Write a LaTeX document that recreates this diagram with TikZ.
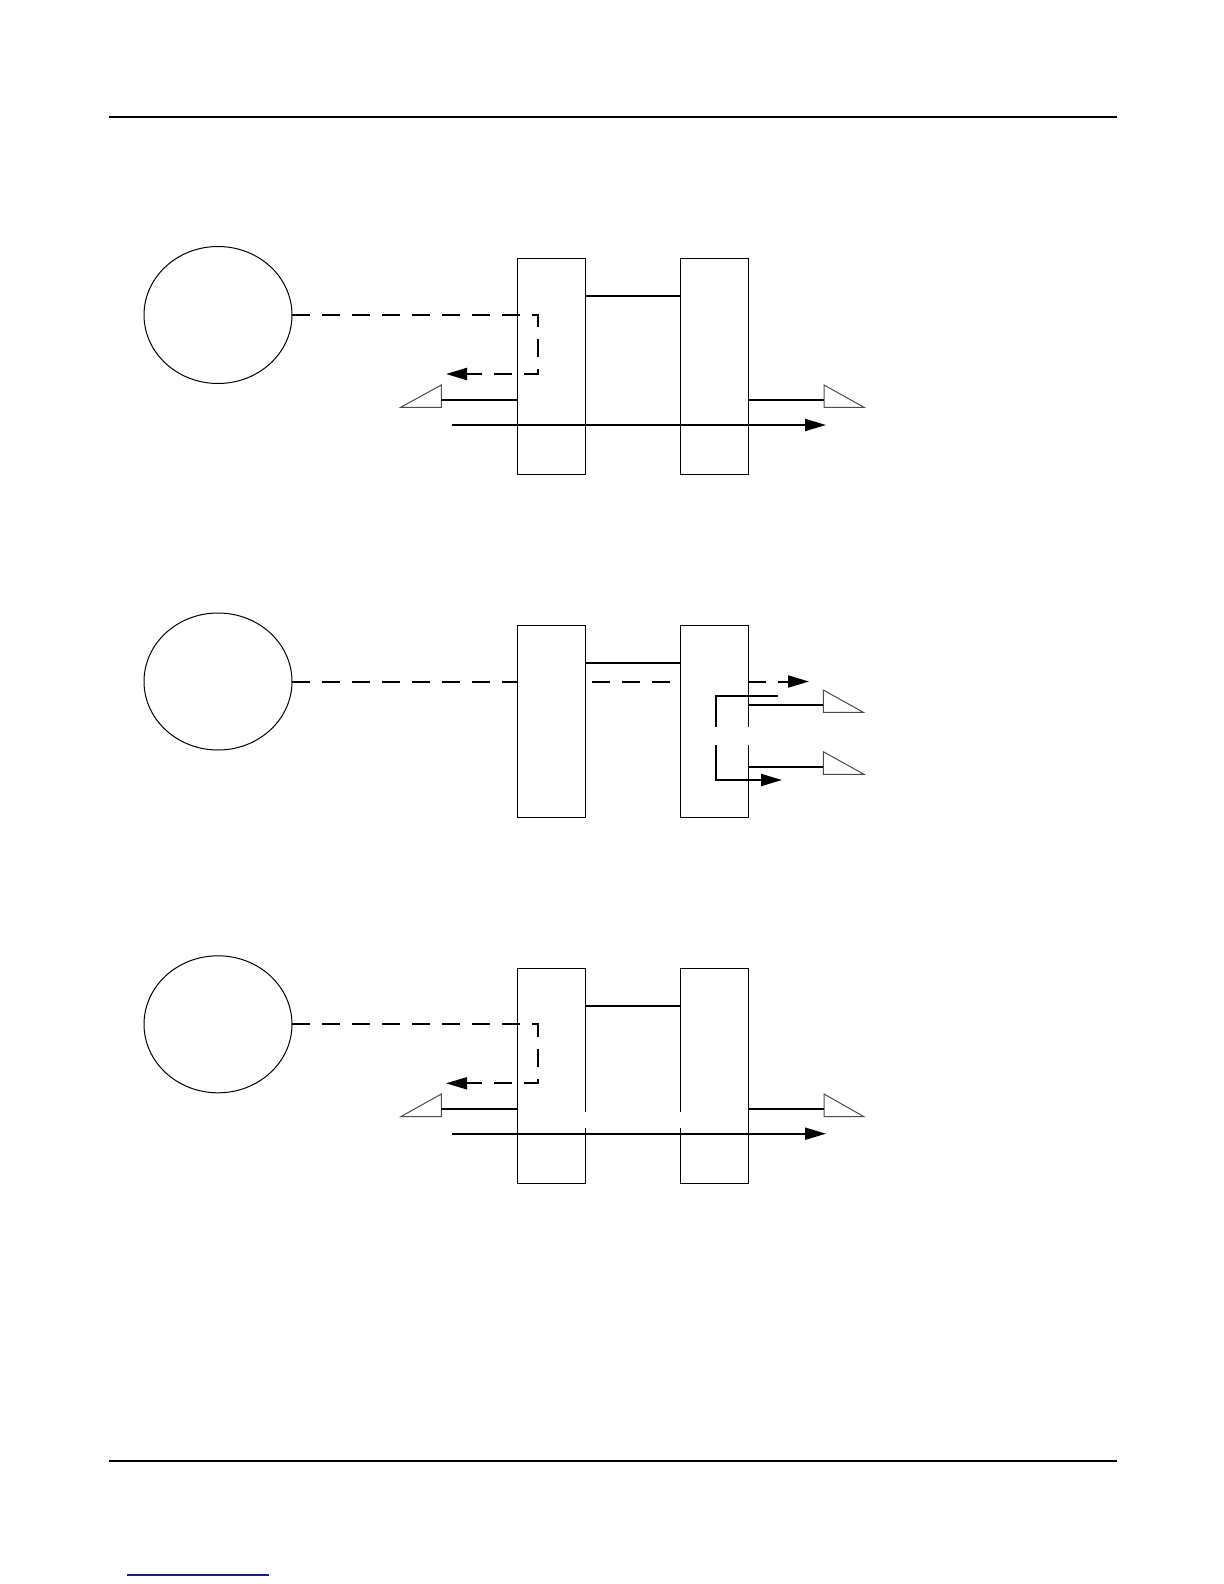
\documentclass[tikz,border=0pt]{standalone}
\usetikzlibrary{arrows.meta,shapes.geometric}
\definecolor{linkblue}{RGB}{30,30,130}
\begin{document}
\begin{tikzpicture}[x=0.5pt,y=-0.5pt,
 unit/.style={draw, line width=0.5pt, minimum width=34pt, inner sep=0pt, outer sep=0pt, rectangle},
 src/.style={draw, ellipse, line width=0.5pt, minimum width=74pt, minimum height=68.5pt, inner sep=0pt, outer sep=0pt},
 conn/.style={line width=1pt},
 sig/.style={line width=1pt, dash pattern=on 9pt off 6pt},
 tip/.style={-{Triangle[length=10.5pt,width=6pt]}},
 ant/.style={draw=black!70, fill=white, line width=0.5pt},
 rulel/.style={line width=0.7pt}]
\useasboundingbox (0,0) rectangle (1224,1584);
\fill[white] (0,0) rectangle (1224,1584);
% page rules
\draw[rulel] (109,117) -- (1117,117);
\draw[rulel] (109,1461) -- (1117,1461);
\draw[linkblue, line width=0.7pt] (127,1575) -- (269,1575);

% ---------- panel 1 ----------
\node[src] (c1) at (218,315) {};
\node[unit, minimum height=108pt] (a1) at (551.3,366.3) {};
\node[unit, minimum height=108pt] (b1) at (714.3,366.8) {};
\draw[conn] (a1.east |- 0,296) -- (b1.west |- 0,296);
\coordinate (d1) at (537.7,315);
\coordinate (d1b) at (537.7,374);
\coordinate (d1t) at (446,374);
\draw[sig, tip] (c1.east) -- (d1) -- (d1b) -- (d1t);
\coordinate (l1) at (441.3,400);
\draw[ant] (441.3,385) -- (441.3,407.3) -- (400.7,407.3) -- cycle;
\draw[conn] (a1.west |- l1) -- (l1);
\coordinate (r1) at (824,400);
\draw[ant] (824,385) -- (824,407.3) -- (864,407.3) -- cycle;
\draw[conn] (b1.east |- r1) -- (r1);
\coordinate (s1) at (452,425);
\coordinate (e1) at (826,425);
\draw[conn, tip] (s1) -- (e1);

% ---------- panel 2 ----------
\node[src] (c2) at (218,681.5) {};
\node[unit, minimum height=96pt] (a2) at (551.5,721.2) {};
\node[unit, minimum height=96pt] (b2) at (714.3,721.2) {};
\fill[white] (746.5,727) rectangle (750,745);
\draw[conn] (a2.east |- 0,663) -- (b2.west |- 0,663);
\draw[sig] (c2.east) -- (a2.west |- c2.east);
\coordinate (m2) at (592,681.5);
\draw[sig] (m2) -- (b2.west |- c2.east);
\coordinate (e2) at (809,681.5);
\draw[sig, tip] (b2.east |- c2.east) -- (e2);
\coordinate (p1) at (778,696);
\coordinate (p2) at (716,696);
\coordinate (p3) at (716,726.7);
\draw[conn] (p1) -- (p2) -- (p3);
\coordinate (q1) at (716,745);
\coordinate (q2) at (716,780);
\coordinate (q3) at (782,780);
\draw[conn, tip] (q1) -- (q2) -- (q3);
\coordinate (r2) at (823.3,705);
\draw[ant] (823.3,690) -- (823.3,712.3) -- (863.3,712.3) -- cycle;
\draw[conn] (b2.east |- r2) -- (r2);
\coordinate (r3) at (823.3,766.7);
\draw[ant] (823.3,751.7) -- (823.3,774.3) -- (864,774.3) -- cycle;
\draw[conn] (b2.east |- r3) -- (r3);

% ---------- panel 3 ----------
\node[src] (c3) at (218,1024.3) {};
\node[unit, minimum height=107.5pt] (a3) at (551.3,1075.8) {};
\node[unit, minimum height=107.5pt] (b3) at (714.3,1075.8) {};
\fill[white] (583.5,1111.7) rectangle (587,1128.3);
\fill[white] (678.5,1111.7) rectangle (682,1128.3);
\draw[conn] (a3.east |- 0,1005.7) -- (b3.west |- 0,1005.7);
\coordinate (d3) at (537.7,1024.3);
\coordinate (d3b) at (537.7,1083.3);
\coordinate (d3t) at (446,1083.3);
\draw[sig, tip] (c3.east) -- (d3) -- (d3b) -- (d3t);
\coordinate (l3) at (441.3,1109);
\draw[ant] (441.3,1094) -- (441.3,1116.7) -- (400.7,1116.7) -- cycle;
\draw[conn] (a3.west |- l3) -- (l3);
\coordinate (r4) at (824,1109);
\draw[ant] (824,1094) -- (824,1116.7) -- (864,1116.7) -- cycle;
\draw[conn] (b3.east |- r4) -- (r4);
\coordinate (s3) at (452,1133.7);
\coordinate (e3) at (826,1133.7);
\draw[conn, tip] (s3) -- (e3);
\end{tikzpicture}
\end{document}
